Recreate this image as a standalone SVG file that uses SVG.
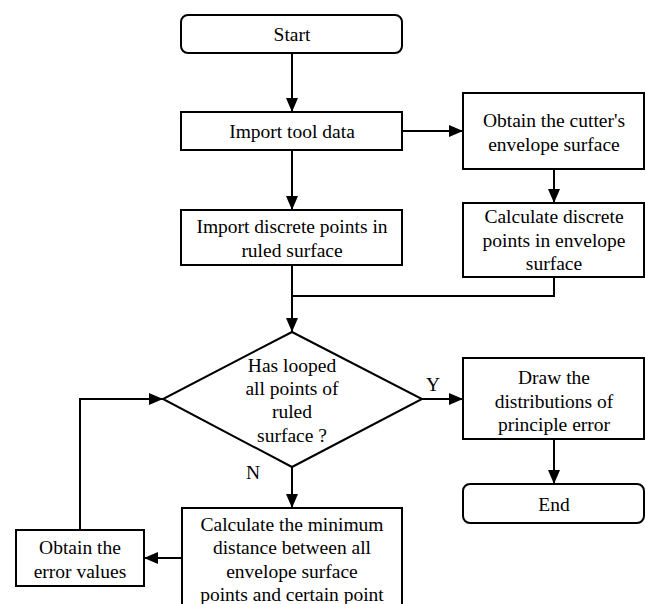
<svg xmlns="http://www.w3.org/2000/svg" width="646" height="604" viewBox="0 0 646 604">
<defs>
<marker id="ah" markerWidth="14" markerHeight="12" viewBox="0 0 14 12" refX="14" refY="6" orient="auto" markerUnits="userSpaceOnUse">
<path d="M0,0 L14,6 L0,12 Z" fill="#000"/>
</marker>
<style>
.box{fill:#fff;stroke:#000;stroke-width:2}
.t{font-family:"Liberation Serif","Times New Roman",serif;font-size:19.5px;fill:#000;text-anchor:middle}
.c{fill:none;stroke:#000;stroke-width:2}
</style>
</defs>
<rect width="646" height="604" fill="#fff"/>
<g id="connectors">
<line class="c" x1="292" y1="53" x2="292" y2="112" marker-end="url(#ah)"/>
<line class="c" x1="402" y1="131" x2="463" y2="131" marker-end="url(#ah)"/>
<line class="c" x1="554" y1="169" x2="554" y2="203" marker-end="url(#ah)"/>
<line class="c" x1="292" y1="150" x2="292" y2="210" marker-end="url(#ah)"/>
<polyline class="c" points="554,277 554,296 292,296"/>
<line class="c" x1="292" y1="265" x2="292" y2="332" marker-end="url(#ah)"/>
<line class="c" x1="422" y1="399" x2="463" y2="399" marker-end="url(#ah)"/>
<line class="c" x1="554" y1="439" x2="554" y2="484" marker-end="url(#ah)"/>
<line class="c" x1="292" y1="467" x2="292" y2="508" marker-end="url(#ah)"/>
<line class="c" x1="182" y1="558" x2="144" y2="558" marker-end="url(#ah)"/>
<polyline class="c" points="80,530 80,399 163,399" marker-end="url(#ah)"/>
<text class="t" x="433" y="391">Y</text>
<text class="t" x="253" y="479">N</text>
</g>
<g id="start">
<rect class="box" x="181" y="15" width="221" height="38" rx="7"/>
<text class="t" x="292" y="41">Start</text>
</g>
<g id="import-tool">
<rect class="box" x="181" y="112" width="221" height="38"/>
<text class="t" x="292" y="138">Import tool data</text>
</g>
<g id="obtain-envelope">
<rect class="box" x="463" y="93" width="181" height="76"/>
<text class="t" x="554" y="127">Obtain the cutter's</text>
<text class="t" x="554" y="151">envelope surface</text>
</g>
<g id="import-discrete">
<rect class="box" x="181" y="210" width="221" height="55"/>
<text class="t" x="292" y="233">Import discrete points in</text>
<text class="t" x="292" y="257">ruled surface</text>
</g>
<g id="calc-discrete">
<rect class="box" x="463" y="203" width="181" height="74"/>
<text class="t" x="554" y="223">Calculate discrete</text>
<text class="t" x="554" y="247">points in envelope</text>
<text class="t" x="554" y="270">surface</text>
</g>
<g id="decision">
<polygon class="box" points="292,332 422,399 292,467 163,399"/>
<text class="t" x="292" y="372">Has looped</text>
<text class="t" x="292" y="395">all points of</text>
<text class="t" x="292" y="418">ruled</text>
<text class="t" x="292" y="442">surface ?</text>
</g>
<g id="draw">
<rect class="box" x="463" y="358" width="181" height="81"/>
<text class="t" x="554" y="384">Draw the</text>
<text class="t" x="554" y="408">distributions of</text>
<text class="t" x="554" y="431">principle error</text>
</g>
<g id="end">
<rect class="box" x="463" y="484" width="181" height="39" rx="7"/>
<text class="t" x="554" y="511">End</text>
</g>
<g id="calc-min">
<rect class="box" x="182" y="508" width="220" height="104"/>
<text class="t" x="292" y="531">Calculate the minimum</text>
<text class="t" x="292" y="554">distance between all</text>
<text class="t" x="292" y="578">envelope surface</text>
<text class="t" x="292" y="601">points and certain point</text>
</g>
<g id="obtain-error">
<rect class="box" x="16" y="530" width="128" height="56"/>
<text class="t" x="80" y="554">Obtain the</text>
<text class="t" x="80" y="578">error values</text>
</g>
</svg>
